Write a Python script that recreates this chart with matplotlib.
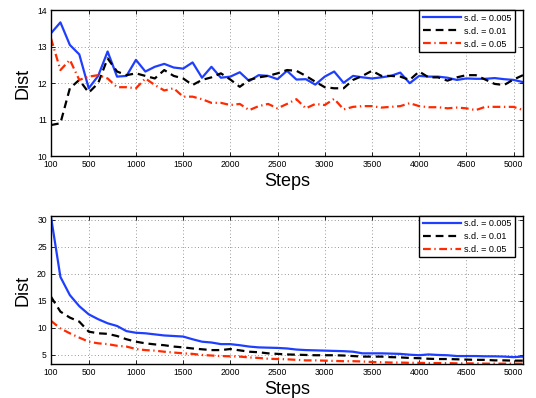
import matplotlib
matplotlib.use("Agg")
import matplotlib.pyplot as plt
import numpy as np

plt.rcParams['font.family'] = ['Liberation Sans', 'DejaVu Sans']

steps = list(range(100, 5101, 100))

top_sd005 = [13.37, 13.67, 13.05, 12.79, 11.86, 12.2, 12.87, 12.18, 12.2, 12.64,
             12.32, 12.45, 12.53, 12.43, 12.4, 12.57, 12.15, 12.45, 12.15, 12.18,
             12.3, 12.06, 12.22, 12.2, 12.11, 12.34, 12.1, 12.11, 11.96, 12.18,
             12.32, 12.01, 12.2, 12.16, 12.13, 12.16, 12.2, 12.29, 12.0, 12.2,
             12.18, 12.18, 12.15, 12.09, 12.13, 12.12, 12.12, 12.14, 12.11, 12.09, 12.03]
top_sd01 = [10.85, 10.9, 11.86, 12.09, 11.74, 12.0, 12.68, 12.32, 12.22, 12.27,
            12.2, 12.13, 12.36, 12.2, 12.13, 11.95, 12.09, 12.16, 12.27, 12.1,
            11.9, 12.09, 12.16, 12.2, 12.27, 12.36, 12.34, 12.2, 12.04, 11.89,
            11.86, 11.86, 12.09, 12.2, 12.34, 12.2, 12.2, 12.18, 12.09, 12.32,
            12.16, 12.16, 12.07, 12.16, 12.22, 12.22, 12.1, 11.98, 11.95, 12.1, 12.22]
top_sd05 = [13.23, 12.36, 12.64, 12.09, 12.18, 12.22, 12.13, 11.89, 11.89, 11.86,
            12.13, 11.95, 11.8, 11.86, 11.63, 11.63, 11.56, 11.46, 11.46, 11.4,
            11.43, 11.26, 11.37, 11.43, 11.31, 11.43, 11.56, 11.31, 11.43, 11.4,
            11.57, 11.28, 11.35, 11.37, 11.37, 11.33, 11.35, 11.37, 11.45, 11.37,
            11.34, 11.34, 11.31, 11.33, 11.31, 11.26, 11.35, 11.35, 11.35, 11.35, 11.26]

bot_sd005 = [30.5, 19.4, 16.05, 14.0, 12.5, 11.6, 10.85, 10.35, 9.4, 9.1,
             9.0, 8.8, 8.6, 8.5, 8.4, 7.9, 7.45, 7.3, 7.0, 7.0,
             6.8, 6.55, 6.4, 6.35, 6.3, 6.2, 6.0, 5.9, 5.85, 5.8,
             5.75, 5.7, 5.6, 5.3, 5.3, 5.3, 5.25, 5.2, 5.05, 4.95,
             5.1, 5.0, 4.95, 4.8, 4.8, 4.8, 4.75, 4.75, 4.7, 4.6, 4.7]
bot_sd01 = [15.75, 13.0, 11.9, 11.15, 9.3, 9.0, 8.9, 8.5, 7.9, 7.45,
            7.15, 6.95, 6.8, 6.55, 6.4, 6.2, 6.05, 5.9, 5.9, 6.1,
            5.85, 5.6, 5.5, 5.3, 5.2, 5.1, 5.05, 5.0, 4.95, 4.95,
            4.95, 4.9, 4.8, 4.7, 4.7, 4.7, 4.6, 4.55, 4.45, 4.4,
            4.3, 4.25, 4.25, 4.2, 4.15, 4.1, 4.1, 4.0, 4.0, 3.95, 3.95]
bot_sd05 = [11.3, 9.9, 9.0, 8.2, 7.45, 7.15, 7.0, 6.7, 6.55, 6.1,
            5.9, 5.8, 5.6, 5.45, 5.3, 5.2, 5.0, 4.9, 4.8, 4.75,
            4.7, 4.55, 4.45, 4.3, 4.25, 4.2, 4.1, 4.0, 4.0, 3.95,
            3.9, 3.85, 3.85, 3.8, 3.7, 3.65, 3.6, 3.6, 3.55, 3.55,
            3.5, 3.5, 3.5, 3.45, 3.45, 3.45, 3.4, 3.4, 3.4, 3.4, 3.4]

labels = ['s.d. = 0.005', 's.d. = 0.01', 's.d. = 0.05']
xticks = [100, 500, 1000, 1500, 2000, 2500, 3000, 3500, 4000, 4500, 5000]
top_yticks = [10, 11, 12, 13, 14]
bot_yticks = [5, 10, 15, 20, 25, 30]

blue = '#1f3fff'
red = '#ff2a00'

fig = plt.figure(figsize=(5.36, 3.98), dpi=100)
ax1 = fig.add_axes([0.0951, 0.608, 0.8806, 0.366])
ax2 = fig.add_axes([0.0951, 0.0847, 0.8806, 0.373])

def style(ax, series, yticks, ylim):
    s1, s2, s3 = series
    ax.plot(steps, s1, color=blue, lw=1.6, ls='-', label=labels[0])
    ax.plot(steps, s2, color='black', lw=1.6, ls=(0, (3.5, 2.2)), label=labels[1])
    ax.plot(steps, s3, color=red, lw=1.6, ls=(0, (3.5, 1.6, 0.6, 1.6)), label=labels[2])
    ax.set_xlim(100, 5100)
    ax.set_ylim(*ylim)
    ax.set_xticks(xticks)
    ax.set_yticks(yticks)
    ax.tick_params(direction='in', top=True, right=True, labelsize=6.2, length=3, width=0.6, pad=3)
    ax.grid(True, color='#777777', ls=(0, (1, 3)), lw=0.6)
    for sp in ax.spines.values():
        sp.set_linewidth(1.0)
    ax.set_xlabel('Steps', fontsize=13, labelpad=2.5)
    ax.set_ylabel('Dist', fontsize=13, labelpad=4)
    leg = ax.legend(loc='upper right', fontsize=6.5, frameon=True, fancybox=False,
                    edgecolor='black', framealpha=1, handlelength=4.3, handletextpad=0.3,
                    borderpad=0.35, labelspacing=0.45, borderaxespad=0.0,
                    bbox_to_anchor=(0.9825, 1.0))
    leg.get_frame().set_linewidth(1.0)

style(ax1, (top_sd005, top_sd01, top_sd05), top_yticks, (10, 14))
style(ax2, (bot_sd005, bot_sd01, bot_sd05), bot_yticks, (3.28, 30.68))

fig.savefig('out.png', dpi=100)
